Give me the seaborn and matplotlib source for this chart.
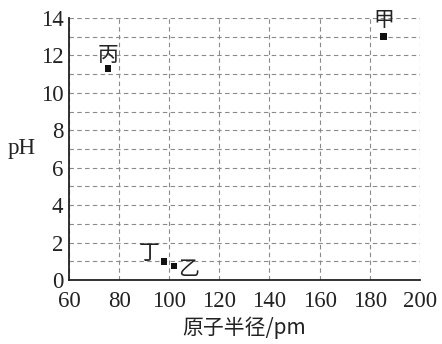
import matplotlib
matplotlib.use('Agg')
import matplotlib.pyplot as plt
import seaborn as sns
import pandas as pd
from matplotlib.ticker import MultipleLocator

# data
names = ['甲', '乙', '丙', '丁']
radius = [185.5, 102, 75.5, 98]
ph = [13.0, 0.75, 11.3, 1.0]
label_offsets = {'甲': (0, 4, 'center', 'bottom'),
                 '乙': (3, -2, 'left', 'center'),
                 '丙': (0, 2, 'center', 'bottom'),
                 '丁': (-3, -2, 'right', 'bottom')}


def plot(df):
    sns.set_style('white')
    plt.rcParams['font.family'] = ['Liberation Serif', 'Noto Sans CJK SC']
    fig = plt.figure(figsize=(4.42, 3.44), dpi=100)
    ax = fig.add_axes([0.156, 0.186, 0.794, 0.762])
    sns.scatterplot(data=df, x='radius', y='ph', marker='s', s=22,
                    color='#111111', edgecolor='none', ax=ax, zorder=3)
    for _, row in df.iterrows():
        dx, dy, ha, va = label_offsets[row['name']]
        ax.annotate(row['name'], (row['radius'], row['ph']),
                    xytext=(dx, dy), textcoords='offset points',
                    ha=ha, va=va, fontsize=15, color='#222222',
                    family=['Noto Sans CJK SC'], weight='light')
    ax.set_xlim(60, 200)
    ax.set_ylim(0, 14)
    ax.xaxis.set_major_locator(MultipleLocator(20))
    ax.yaxis.set_major_locator(MultipleLocator(2))
    ax.yaxis.set_minor_locator(MultipleLocator(1))
    ax.grid(True, which='both', linestyle=(0, (4, 3)), color='#8a8a8a',
            linewidth=0.8)
    ax.tick_params(which='both', direction='in', length=4, width=1.2,
                   labelsize=16.5, colors='#222222')
    ax.tick_params(axis='x', pad=8)
    ax.tick_params(axis='y', pad=4)
    for side in ['top', 'right']:
        ax.spines[side].set_visible(False)
    for side in ['left', 'bottom']:
        ax.spines[side].set_color('#222222')
        ax.spines[side].set_linewidth(1.3)
    ax.set_xlabel('原子半径/pm', fontsize=15, labelpad=3, color='#222222',
                  family=['Noto Sans CJK SC', 'Liberation Serif'],
                  weight='light')
    ax.set_ylabel('pH', fontsize=16.5, rotation=0, labelpad=14,
                  va='center', color='#222222')
    fig.savefig('out.png', dpi=100)


def main():
    df = pd.DataFrame({'name': names, 'radius': radius, 'ph': ph})
    plot(df)


if __name__ == '__main__':
    main()
